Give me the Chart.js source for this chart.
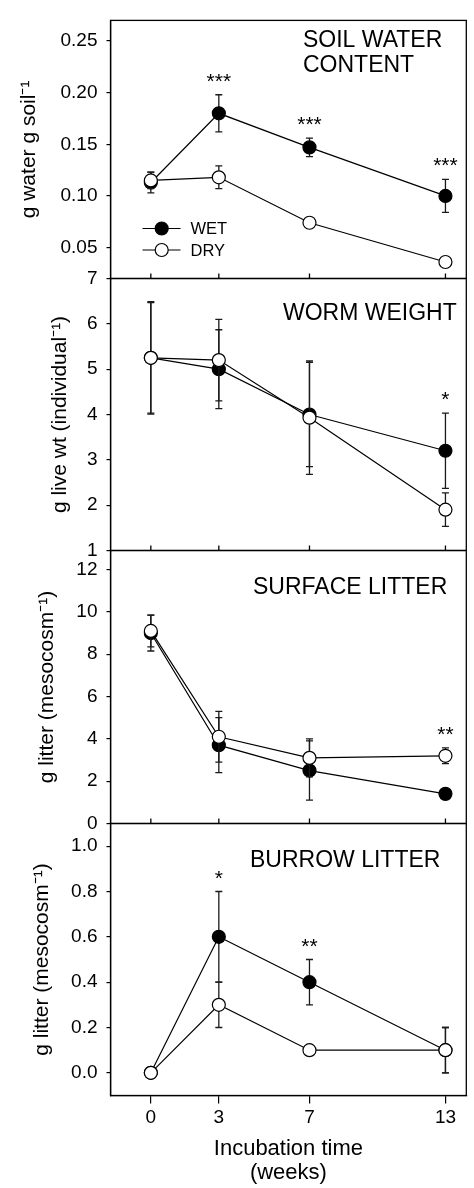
<!DOCTYPE html>
<html><head><meta charset="utf-8">
<script src="https://cdn.jsdelivr.net/npm/chart.js@4.4.1/dist/chart.umd.min.js"></script>
<style>
html,body{margin:0;padding:0;background:#fff;}
#wrap{position:relative;width:474px;height:1188px;overflow:hidden;}
canvas{position:absolute;left:0;top:0;}
</style></head><body>
<div id="wrap">
<canvas id="c1" width="474" height="1188"></canvas>
<canvas id="c2" width="474" height="1188"></canvas>
<canvas id="c3" width="474" height="1188"></canvas>
<canvas id="c4" width="474" height="1188"></canvas>
</div>
<script>
// ---------------- data ----------------
const WEEKS = [0, 3, 7, 13];
const X_TICKS = [0, 3, 7, 13];
const SERIES_LABELS = ['WET', 'DRY'];

const WATER_WET = [0.113, 0.180, 0.147, 0.100];
const WATER_WET_ERR = [0.010, 0.018, 0.009, 0.016];
const WATER_DRY = [0.115, 0.118, 0.074, 0.036];
const WATER_DRY_ERR = [0.008, 0.011, 0.003, 0.003];
const WATER_TICKS = [0.05, 0.10, 0.15, 0.20, 0.25];
const WATER_SIG = ['', '***', '***', '***'];

const WORM_WET = [5.25, 5.0, 4.0, 3.2];
const WORM_WET_ERR = [1.22, 0.87, 1.15, 0.83];
const WORM_DRY = [5.25, 5.2, 3.93, 1.9];
const WORM_DRY_ERR = [1.24, 0.9, 1.25, 0.37];
const WORM_TICKS = [1, 2, 3, 4, 5, 6, 7];
const WORM_SIG = ['', '', '', '*'];

const SURF_WET = [9.0, 3.7, 2.5, 1.4];
const SURF_WET_ERR = [0.85, 1.3, 1.4, 0.1];
const SURF_DRY = [9.1, 4.1, 3.1, 3.2];
const SURF_DRY_ERR = [0.75, 1.2, 0.9, 0.37];
const SURF_TICKS = [0, 2, 4, 6, 8, 10, 12];
const SURF_SIG = ['', '', '', '**'];

const BURR_WET = [0.0, 0.6, 0.4, 0.1];
const BURR_WET_ERR = [0.0, 0.2, 0.1, 0.1];
const BURR_DRY = [0.0, 0.3, 0.1, 0.1];
const BURR_DRY_ERR = [0.0, 0.1, 0.0, 0.1];
const BURR_TICKS = [0.0, 0.2, 0.4, 0.6, 0.8, 1.0];
const BURR_SIG = ['', '*', '**', ''];

// ---------------- layout / style ----------------
const FONT = '"Liberation Sans", Arial, Helvetica, sans-serif';
const W = 474, H = 1188;
const AREA_LEFT = 110.5, AREA_RIGHT = 472.5;
const X_MIN = -1.78, X_MAX = 13.92;

const PANELS = [
  { id: 'c1', top: 5.5, bottom: 278.5, min: 0.02, max: 0.27, ticks: WATER_TICKS, dec: 2,
    wet: WATER_WET, wetErr: WATER_WET_ERR, dry: WATER_DRY, dryErr: WATER_DRY_ERR, sig: WATER_SIG,
    yTitle: 'g water g soil\u207B\u00B9', yTitleCenter: 29,
    title: ['SOIL WATER', 'CONTENT'], titleX: 303, titleY: [47, 72], legend: true },
  { id: 'c2', top: 278.5, bottom: 550.5, min: 1, max: 7, ticks: WORM_TICKS, dec: 0,
    wet: WORM_WET, wetErr: WORM_WET_ERR, dry: WORM_DRY, dryErr: WORM_DRY_ERR, sig: WORM_SIG,
    yTitle: 'g live wt (individual\u207B\u00B9)', yTitleCenter: 60,
    title: ['WORM WEIGHT'], titleX: 283, titleY: [320] },
  { id: 'c3', top: 550.5, bottom: 823.5, min: 0, max: 12.9, ticks: SURF_TICKS, dec: 0,
    wet: SURF_WET, wetErr: SURF_WET_ERR, dry: SURF_DRY, dryErr: SURF_DRY_ERR, sig: SURF_SIG,
    yTitle: 'g litter (mesocosm\u207B\u00B9)', yTitleCenter: 47.5,
    title: ['SURFACE LITTER'], titleX: 253, titleY: [593.5] },
  { id: 'c4', top: 823.5, bottom: 1095.5, min: -0.1, max: 1.1, ticks: BURR_TICKS, dec: 1,
    wet: BURR_WET, wetErr: BURR_WET_ERR, dry: BURR_DRY, dryErr: BURR_DRY_ERR, sig: BURR_SIG,
    yTitle: 'g litter (mesocosm\u207B\u00B9)', yTitleCenter: 42.5,
    title: ['BURROW LITTER'], titleX: 250, titleY: [866.5], bottomAxis: true }
];
const PANEL_BY_ID = {};
PANELS.forEach(p => PANEL_BY_ID[p.id] = p);

const MARKER_R = 6.5;

const panelPlugin = {
  id: 'panelDecor',
  beforeDatasetDraw(chart, args) {
    const ds = chart.data.datasets[args.index];
    const xs = chart.scales.x, ys = chart.scales.y, ctx = chart.ctx;
    ctx.save();
    ctx.strokeStyle = '#1a1a1a';
    ctx.lineWidth = 1.3;
    ds.data.forEach((pt, i) => {
      const e = ds.err[i];
      if (!e) return;
      const x = xs.getPixelForValue(pt.x);
      const y1 = ys.getPixelForValue(pt.y + e);
      const y2 = ys.getPixelForValue(pt.y - e);
      ctx.beginPath();
      ctx.moveTo(x, y1); ctx.lineTo(x, y2);
      ctx.moveTo(x - 3.5, y1); ctx.lineTo(x + 3.5, y1);
      ctx.moveTo(x - 3.5, y2); ctx.lineTo(x + 3.5, y2);
      ctx.stroke();
    });
    ctx.restore();
  },
  afterDraw(chart) {
    const p = PANEL_BY_ID[chart.canvas.id];
    const ctx = chart.ctx, xs = chart.scales.x, ys = chart.scales.y;
    const { left, right, top, bottom } = chart.chartArea;
    ctx.save();
    ctx.strokeStyle = '#000';
    ctx.lineWidth = 1.3;
    ctx.strokeRect(left, top, right - left, bottom - top);
    if (!p.bottomAxis) {
      ctx.beginPath();
      X_TICKS.forEach(v => {
        const x = xs.getPixelForValue(v);
        ctx.moveTo(x, bottom); ctx.lineTo(x, bottom - 5);
      });
      ctx.stroke();
    }
    // significance marks
    ctx.fillStyle = '#000';
    ctx.font = '21px ' + FONT;
    ctx.textAlign = 'center';
    ctx.textBaseline = 'alphabetic';
    p.sig.forEach((s, i) => {
      if (!s) return;
      const hi = Math.max(p.wet[i] + p.wetErr[i], p.dry[i] + p.dryErr[i]);
      const yc = ys.getPixelForValue(hi) - 19;
      ctx.fillText(s, xs.getPixelForValue(WEEKS[i]), yc + 12);
    });
    // panel title
    ctx.font = '23px ' + FONT;
    ctx.textAlign = 'left';
    p.title.forEach((t, k) => ctx.fillText(t, p.titleX, p.titleY[k]));
    // legend
    if (p.legend) {
      const items = [
        { label: SERIES_LABELS[0], fill: '#000', y: 228.5, ty: 234.3 },
        { label: SERIES_LABELS[1], fill: '#fff', y: 250, ty: 255.8 }
      ];
      ctx.font = '16.5px ' + FONT;
      items.forEach(it => {
        ctx.beginPath();
        ctx.lineWidth = 1.2;
        ctx.moveTo(142.5, it.y); ctx.lineTo(180.5, it.y);
        ctx.stroke();
        ctx.beginPath();
        ctx.arc(161.7, it.y, MARKER_R, 0, Math.PI * 2);
        ctx.fillStyle = it.fill;
        ctx.fill();
        ctx.stroke();
        ctx.fillStyle = '#000';
        ctx.fillText(it.label, 190.5, it.ty);
      });
    }
    ctx.restore();
  }
};

function series(weeks, vals) {
  return weeks.map((w, i) => ({ x: w, y: vals[i] }));
}

function makeChart(p) {
  const isBottom = !!p.bottomAxis;
  return new Chart(document.getElementById(p.id), {
    type: 'line',
    data: {
      datasets: [
        { label: SERIES_LABELS[1], data: series(WEEKS, p.dry), err: p.dryErr, order: 0,
          borderColor: '#000', borderWidth: 1.2, tension: 0, fill: false,
          pointRadius: MARKER_R, pointHoverRadius: MARKER_R, pointBackgroundColor: '#fff',
          pointBorderColor: '#000', pointBorderWidth: 1.2 },
        { label: SERIES_LABELS[0], data: series(WEEKS, p.wet), err: p.wetErr, order: 1,
          borderColor: '#000', borderWidth: 1.2, tension: 0, fill: false,
          pointRadius: MARKER_R, pointHoverRadius: MARKER_R, pointBackgroundColor: '#000',
          pointBorderColor: '#000', pointBorderWidth: 1.2 }
      ]
    },
    options: {
      responsive: false,
      animation: false,
      events: [],
      layout: { padding: { left: 0, right: W - AREA_RIGHT, top: p.top, bottom: isBottom ? 0 : H - p.bottom } },
      plugins: { legend: { display: false }, tooltip: { enabled: false } },
      scales: {
        x: {
          type: 'linear', min: X_MIN, max: X_MAX, display: isBottom,
          afterBuildTicks: s => { s.ticks = X_TICKS.map(v => ({ value: v })); },
          afterFit: s => { if (isBottom) s.height = H - p.bottom; },
          grid: { drawOnChartArea: false, drawTicks: true, tickLength: 8, color: '#000', lineWidth: 1.2 },
          border: { display: true, color: '#000', width: 1.3 },
          ticks: { color: '#000', font: { family: FONT, size: 19 }, padding: 3, maxRotation: 0, autoSkip: false },
          title: { display: true, text: ['Incubation time', '(weeks)'], color: '#000',
                   font: { family: FONT, size: 22, lineHeight: 1.1 }, padding: { top: 0, bottom: 2.7 } }
        },
        y: {
          type: 'linear', min: p.min, max: p.max,
          afterBuildTicks: s => { s.ticks = p.ticks.map(v => ({ value: v })); },
          afterFit: s => { s.width = AREA_LEFT; },
          grid: { drawOnChartArea: false, drawTicks: true, tickLength: 4, color: '#000', lineWidth: 1.2 },
          border: { display: true, color: '#000', width: 1.3 },
          ticks: { color: '#000', font: { family: FONT, size: 19 }, padding: 9, autoSkip: false,
                   callback: v => Number(v).toFixed(p.dec) },
          title: { display: true, text: p.yTitle, color: '#000',
                   font: { family: FONT, size: 21, lineHeight: 1.2 },
                   padding: { top: p.yTitleCenter - 12.6, bottom: 0 } }
        }
      }
    },
    plugins: [panelPlugin]
  });
}

PANELS.forEach(makeChart);
</script>
</body></html>
